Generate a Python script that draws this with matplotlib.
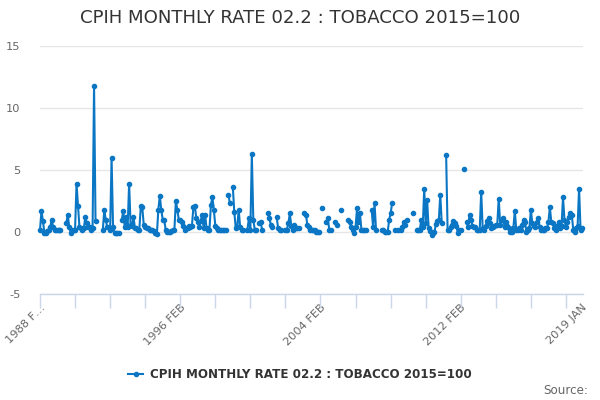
import numpy as np
import matplotlib
matplotlib.use("Agg")
import matplotlib.pyplot as plt

nan = np.nan
title = "CPIH MONTHLY RATE 02.2 : TOBACCO 2015=100"
series_name = "CPIH MONTHLY RATE 02.2 : TOBACCO 2015=100"
x_label_pos = [0, 96, 192, 288, 371]
x_labels = ["1988 F…", "1996 FEB", "2004 FEB", "2012 FEB", "2019 JAN"]
y_ticks = [-5, 0, 5, 10, 15]

values = [
    0.15, 1.7, 0.9, -0.05, -0.05, 0.1, 0.15, 0.4, 1.0, 0.4, 0.15, 0.15,
    0.15, 0.15, 0.15, nan, nan, nan, 0.7, 1.4, 0.4, -0.05, 0.15, 0.2,
    0.2, 3.9, 2.1, 0.4, 0.3, 0.15, 0.3, 1.2, 0.7, 0.4, 0.4, 0.15,
    0.3, 11.8, 0.9, nan, nan, nan, nan, 0.15, 1.8, 1.0, 0.4, 0.4,
    0.15, 6.0, 0.4, -0.05, -0.05, -0.05, -0.05, nan, 1.0, 1.7, 0.4, 1.2,
    0.4, 3.9, 0.6, 0.5, 1.2, 0.3, 0.3, 0.2, 0.2, 2.1, 2.0, 0.6,
    0.4, 0.3, 0.3, 0.2, 0.2, 0.2, 0.1, -0.05, -0.2, 1.8, 2.9, 1.8,
    1.0, 1.0, 0.2, 0.0, 0.0, 0.0, 0.1, 0.2, 0.2, 2.5, 1.8, 1.0,
    1.0, 0.8, 0.5, 0.15, 0.3, 0.3, 0.5, 0.4, 0.5, 2.0, 2.1, 1.1,
    0.8, 0.4, 0.9, 1.4, 0.3, 1.4, 0.3, 0.2, 0.2, 2.2, 2.8, 1.8,
    0.5, 0.3, 0.2, 0.2, 0.2, 0.2, 0.2, 0.2, nan, 3.0, 2.3, nan,
    3.6, 1.6, 0.3, 0.4, 1.8, 0.4, 0.2, 0.2, nan, nan, 0.2, 1.1,
    0.2, 6.3, 1.0, 0.2, 0.2, nan, 0.7, 0.8, 0.2, nan, nan, nan,
    1.5, 1.1, 0.6, 0.4, nan, nan, 1.2, 0.3, 0.2, 0.2, nan, nan,
    0.2, 0.2, 0.7, 1.5, 0.5, 0.15, 0.6, 0.3, 0.3, 0.3, nan, nan,
    nan, 1.5, 1.4, 0.6, 0.4, 0.2, 0.2, 0.2, 0.2, 0.0, 0.0, 0.0,
    nan, 1.9, nan, nan, 0.8, 1.1, 0.2, 0.2, nan, nan, 0.8, 0.6,
    nan, nan, 1.8, nan, nan, nan, nan, 1.0, 0.8, 0.4, 0.15, -0.1,
    0.4, 1.9, 0.8, 1.5, 0.2, 0.2, 0.2, 0.2, nan, nan, nan, 1.8,
    0.4, 2.3, 0.2, nan, nan, nan, 0.2, 0.2, 0.0, 0.0, 0.0, 1.0,
    1.5, 2.3, nan, 0.2, nan, 0.2, nan, 0.2, 0.4, 0.8, 0.6, 1.0,
    nan, nan, nan, 1.5, nan, nan, 0.2, 0.2, 0.2, 1.0, 0.4, 3.5,
    0.7, 2.6, 0.3, 0.1, -0.25, -0.05, 0.0, 0.65, 0.9, 1.0, 3.0, 0.7,
    nan, nan, 6.2, 0.15, 0.2, 0.4, 0.6, 0.9, 0.7, 0.5, -0.1, 0.2,
    0.2, nan, 5.1, nan, 0.8, 0.4, 1.4, 1.0, 0.5, 0.4, 0.4, 0.2,
    0.2, 0.2, 3.25, 0.3, 0.2, 0.5, 0.9, 1.1, 0.7, 0.3, 0.4, 0.5,
    0.6, 0.6, 2.7, 0.6, 1.0, 1.1, 0.4, 0.8, 0.5, 0.3, 0.0, 0.0,
    0.3, 1.7, 0.2, 0.2, 0.3, 0.2, 0.6, 1.0, 0.8, 0.0, 0.2, 0.3,
    1.8, 0.7, 0.5, 0.4, 0.8, 1.1, 0.4, 0.2, 0.2, 0.2, 0.3, 0.3,
    0.8, 2.0, 0.8, 0.7, 0.3, 0.2, 0.5, 0.8, 0.3, 0.5, 2.8, 1.0,
    0.4, 0.8, 1.2, 1.5, 1.4, 0.2, 0.0, 0.3, 0.5, 3.5, 0.2, 0.3,
]

color = "#0b77c4"
fig = plt.figure(figsize=(6, 4), dpi=100)
ax = fig.add_axes([40/600, 1-294/400, (583-40)/600, (294-46)/400])
x = np.arange(len(values))
ax.plot(x, values, color=color, lw=1.5, marker="o", ms=3.0, mec=color, mfc=color,
        zorder=3, clip_on=False)

ax.set_xlim(0, 371 * (543/542))
ax.set_ylim(-5, 15)
ax.set_yticks(y_ticks)
ax.set_yticklabels([str(v) for v in y_ticks], color="#666666", fontsize=8.2)
ax.yaxis.set_tick_params(length=0, pad=14)
ax.grid(axis="y", color="#e6e6e6", lw=1)
ax.set_axisbelow(True)
for s in ["top", "right", "left"]:
    ax.spines[s].set_visible(False)
ax.spines["bottom"].set_color("#ccd6eb")
ax.spines["bottom"].set_linewidth(1)

ax.xaxis.remove_overlapping_locs = False
ax.set_xticks(np.arange(0, len(values), 24), minor=True)
ax.tick_params(axis="x", which="minor", length=10, color="#ccd6eb", width=1)
ax.set_xticks(x_label_pos)
ax.set_xticklabels(x_labels, rotation=45, ha="right", rotation_mode="anchor",
                   color="#666666", fontsize=8.2)
ax.tick_params(axis="x", which="major", length=0, pad=6)

fig.text(0.5, 1-18/400, title, ha="center", va="center", fontsize=13.1, color="#333333")

lx0, lx1, ly = 128/600, 143/600, 1-374/400
fig.add_artist(plt.Line2D([lx0, lx1], [ly, ly], color=color, lw=1.5, transform=fig.transFigure))
fig.add_artist(plt.Line2D([(lx0+lx1)/2], [ly], color=color, marker="o", ms=3.0, transform=fig.transFigure))
fig.text(150/600, ly, series_name, ha="left", va="center", fontsize=8.6, fontweight="bold", color="#333333")
fig.text(588/600, 1-391/400, "Source:", ha="right", va="center", fontsize=8.6, color="#666666")

fig.savefig("out.png", dpi=100)
